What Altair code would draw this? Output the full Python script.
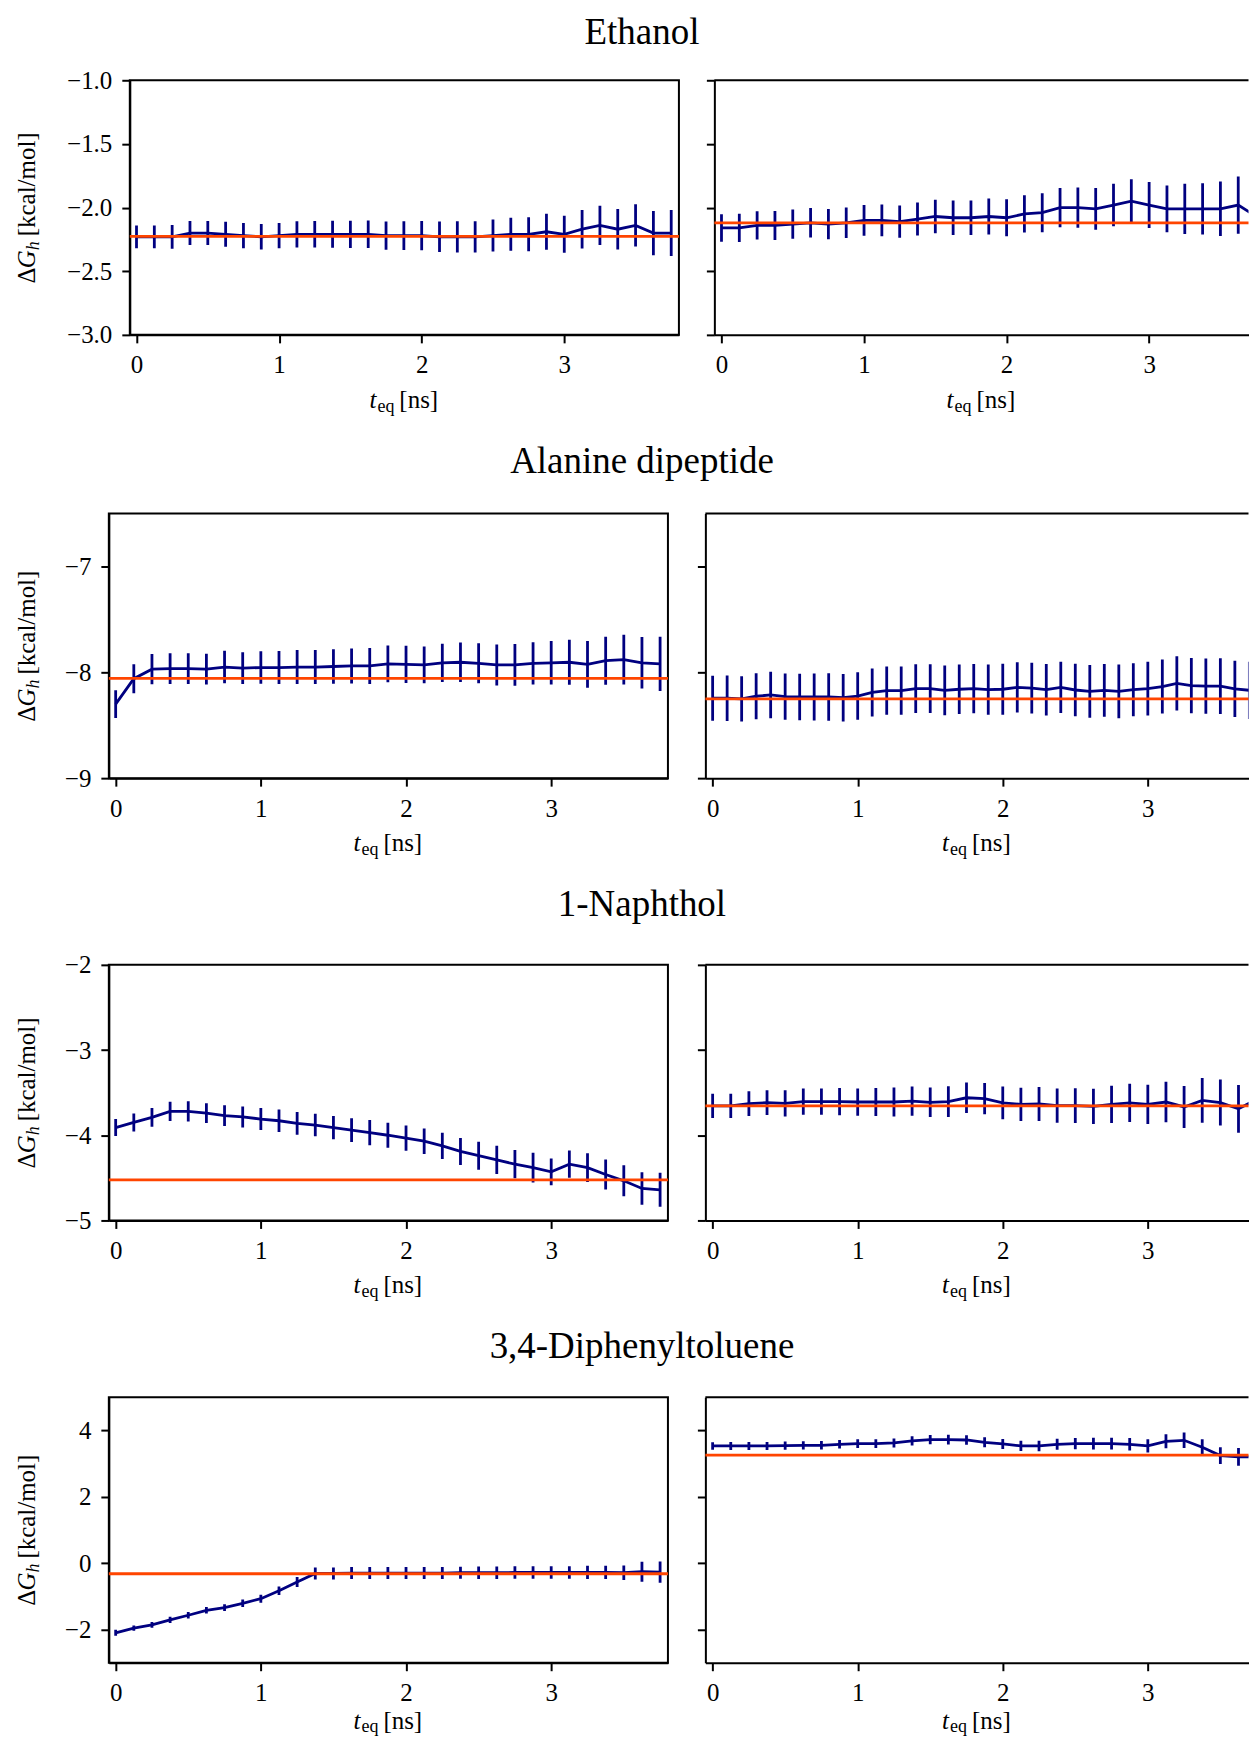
import altair as alt
import pandas as pd

FONT = "Liberation Serif"
BLUE = "#000080"
ORANGE = "#FF4500"

# ---------------- data ----------------
titles = ["Ethanol", "Alanine dipeptide", "1-Naphthol", "3,4-Diphenyltoluene"]

eth_left_step = 0.125
eth_left_vals = [-2.23, -2.23, -2.23, -2.20, -2.20, -2.21, -2.22, -2.23, -2.22, -2.21, -2.21,
                 -2.21, -2.21, -2.21, -2.22, -2.22, -2.22, -2.23, -2.23, -2.23, -2.22, -2.21,
                 -2.21, -2.19, -2.21, -2.17, -2.14, -2.17, -2.14, -2.20, -2.20]
eth_left_errs = [0.089, 0.089, 0.093, 0.094, 0.095, 0.098, 0.099, 0.100, 0.099, 0.103, 0.104,
                 0.106, 0.107, 0.108, 0.111, 0.113, 0.115, 0.120, 0.122, 0.123, 0.126, 0.130,
                 0.134, 0.141, 0.145, 0.151, 0.154, 0.159, 0.166, 0.174, 0.180]
eth_left_ref = -2.227

eth_right_step = 0.125
eth_right_vals = [-2.16, -2.16, -2.14, -2.14, -2.13, -2.12, -2.13, -2.12, -2.10, -2.10, -2.11,
                  -2.09, -2.07, -2.08, -2.08, -2.07, -2.08, -2.05, -2.04, -2.00, -2.00, -2.01,
                  -1.98, -1.95, -1.98, -2.01, -2.01, -2.01, -2.01, -1.98, -2.07]
eth_right_errs = [0.108, 0.111, 0.111, 0.114, 0.114, 0.116, 0.119, 0.120, 0.121, 0.125, 0.127,
                  0.129, 0.132, 0.136, 0.136, 0.141, 0.145, 0.146, 0.153, 0.154, 0.158, 0.164,
                  0.167, 0.172, 0.180, 0.184, 0.197, 0.202, 0.214, 0.225, 0.237]
eth_right_ref = -2.12

ala_left_step = 0.125
ala_left_vals = [-8.30, -8.06, -7.97, -7.965, -7.965, -7.97, -7.95, -7.96, -7.955, -7.955, -7.95,
                 -7.95, -7.945, -7.94, -7.94, -7.92, -7.925, -7.93, -7.91, -7.905, -7.915, -7.93,
                 -7.93, -7.915, -7.91, -7.905, -7.925, -7.89, -7.88, -7.91, -7.92]
ala_left_errs = [0.131, 0.137, 0.142, 0.145, 0.145, 0.145, 0.153, 0.150, 0.153, 0.156, 0.160,
                 0.160, 0.162, 0.165, 0.170, 0.173, 0.176, 0.173, 0.181, 0.186, 0.189, 0.194,
                 0.198, 0.200, 0.205, 0.213, 0.220, 0.227, 0.236, 0.244, 0.257]
ala_left_ref = -8.057

ala_right_step = 0.1
ala_right_vals = [-8.245, -8.245, -8.25, -8.226, -8.214, -8.23, -8.233, -8.233, -8.233, -8.24,
                  -8.224, -8.19, -8.173, -8.173, -8.154, -8.154, -8.17, -8.16, -8.154, -8.164,
                  -8.16, -8.142, -8.15, -8.164, -8.142, -8.167, -8.18, -8.17, -8.18, -8.164,
                  -8.154, -8.135, -8.104, -8.126, -8.13, -8.13, -8.157, -8.17]
ala_right_errs = [0.213, 0.216, 0.214, 0.217, 0.219, 0.219, 0.220, 0.222, 0.224, 0.224, 0.224,
                  0.227, 0.228, 0.228, 0.230, 0.230, 0.235, 0.233, 0.233, 0.238, 0.240, 0.238,
                  0.240, 0.243, 0.243, 0.249, 0.249, 0.249, 0.254, 0.250, 0.255, 0.255, 0.257,
                  0.261, 0.261, 0.263, 0.266, 0.270]
ala_right_ref = -8.25

nap_left_step = 0.125
nap_left_vals = [-3.91, -3.85, -3.79, -3.72, -3.72, -3.74, -3.77, -3.785, -3.81, -3.83, -3.86,
                 -3.88, -3.91, -3.94, -3.97, -4.00, -4.035, -4.07, -4.125, -4.19, -4.24, -4.29,
                 -4.34, -4.38, -4.43, -4.34, -4.38, -4.46, -4.535, -4.625, -4.64]
nap_left_errs = [0.100, 0.105, 0.109, 0.113, 0.119, 0.115, 0.121, 0.123, 0.129, 0.131, 0.133,
                 0.131, 0.137, 0.140, 0.148, 0.148, 0.148, 0.150, 0.154, 0.158, 0.164, 0.166,
                 0.166, 0.174, 0.156, 0.160, 0.170, 0.176, 0.182, 0.190, 0.200]
nap_left_ref = -4.523

nap_right_step = 0.125
nap_right_vals = [-3.656, -3.656, -3.63, -3.617, -3.625, -3.605, -3.605, -3.605, -3.61, -3.61,
                  -3.61, -3.60, -3.613, -3.605, -3.56, -3.57, -3.62, -3.637, -3.633, -3.652,
                  -3.652, -3.66, -3.637, -3.62, -3.637, -3.61, -3.668, -3.59, -3.617, -3.69, -3.58]
nap_right_errs = [0.143, 0.143, 0.145, 0.146, 0.154, 0.154, 0.154, 0.160, 0.160, 0.164, 0.170,
                  0.172, 0.174, 0.180, 0.180, 0.184, 0.191, 0.195, 0.200, 0.200, 0.205, 0.207,
                  0.219, 0.225, 0.230, 0.238, 0.246, 0.262, 0.270, 0.280, 0.290]
nap_right_ref = -3.656

dph_left_step = 0.125
dph_left_vals = [-2.10, -1.96, -1.86, -1.71, -1.57, -1.42, -1.34, -1.21, -1.07, -0.83, -0.57,
                 -0.31, -0.31, -0.30, -0.30, -0.30, -0.30, -0.30, -0.30, -0.29, -0.29, -0.29,
                 -0.28, -0.28, -0.28, -0.28, -0.28, -0.28, -0.29, -0.26, -0.27]
dph_left_errs = [0.09, 0.08, 0.09, 0.095, 0.10, 0.10, 0.105, 0.115, 0.12, 0.13, 0.15,
                 0.18, 0.18, 0.18, 0.18, 0.18, 0.18, 0.18, 0.18, 0.18, 0.185, 0.185,
                 0.19, 0.19, 0.19, 0.19, 0.20, 0.20, 0.22, 0.30, 0.32]
dph_left_ref = -0.32

dph_right_step = 0.125
dph_right_vals = [3.53, 3.53, 3.53, 3.53, 3.54, 3.55, 3.55, 3.58, 3.60, 3.60, 3.62, 3.68, 3.72,
                  3.72, 3.71, 3.64, 3.59, 3.53, 3.53, 3.58, 3.60, 3.60, 3.60, 3.58, 3.53, 3.67,
                  3.70, 3.49, 3.24, 3.20, 3.20]
dph_right_errs = [0.115, 0.12, 0.12, 0.12, 0.125, 0.125, 0.13, 0.13, 0.13, 0.135, 0.135, 0.14,
                  0.14, 0.145, 0.145, 0.15, 0.15, 0.155, 0.16, 0.165, 0.17, 0.175, 0.18, 0.19,
                  0.20, 0.21, 0.235, 0.24, 0.25, 0.265, 0.275]
dph_right_ref = 3.256

y_domains = [[-3.0, -1.0], [-9.0, -6.5], [-5.0, -2.0], [-3.0, 5.0]]
y_ticks = [[-3.0, -2.5, -2.0, -1.5, -1.0], [-9, -8, -7], [-5, -4, -3, -2], [-2, 0, 2, 4]]
y_formats = [".1f", "d", "d", "d"]
x_ticks = [0, 1, 2, 3]

# ---------------- layout (px) ----------------
left_w = [550, 560, 560, 560]
right_w = [535, 544, 544, 544]
heights = [255, 265, 256, 266]
gap_w = [35.5, 37.5, 37.5, 37.5]
left_xdom = [-0.047, 3.804]
right_xdom = [[-0.05, 3.697], [-0.05, 3.694], [-0.05, 3.694], [-0.05, 3.694]]
ylab_x = [-94.6, -73.6, -73.6, -73.6]
xlab_dy = [73, 73, 73, 66]
sub_dy = [4, 4, 4, 3]
title_x = [513, 534, 534, 534]
title_y = [-36.7, -40.5, -49, -39]
LW = 2.8


def text_layer(txt, x, y, size, italic=False, angle=0, align="left"):
    kw = dict(font=FONT, fontSize=size, align=align, baseline="alphabetic", color="black")
    if italic:
        kw["fontStyle"] = "italic"
    if angle:
        kw["angle"] = angle
    return alt.Chart(pd.DataFrame({"s": [txt]})).mark_text(**kw).encode(
        text="s:N", x=alt.value(x), y=alt.value(y))


def panel(step, vals, errs, ref, row, is_left):
    w = left_w[row] if is_left else right_w[row]
    h = heights[row]
    xs = [round(i * step, 4) for i in range(len(vals))]
    df = pd.DataFrame({
        "t": xs, "g": vals,
        "lo": [v - e for v, e in zip(vals, errs)],
        "hi": [v + e for v, e in zip(vals, errs)],
    })
    xsc = alt.Scale(domain=left_xdom if is_left else right_xdom[row], nice=False, zero=False)
    ysc = alt.Scale(domain=y_domains[row], nice=False, zero=False)
    xax = alt.Axis(values=x_ticks, format="d", title=None, grid=False)
    yax = alt.Axis(values=y_ticks[row], format=y_formats[row], title=None, grid=False,
                   labels=is_left)
    base = alt.Chart(df)
    bars = base.mark_rule(color=BLUE, strokeWidth=LW, clip=True).encode(
        x=alt.X("t:Q", scale=xsc, axis=xax),
        y=alt.Y("lo:Q", scale=ysc, axis=yax),
        y2="hi:Q")
    line = base.mark_line(color=BLUE, strokeWidth=LW, clip=True).encode(
        x=alt.X("t:Q", scale=xsc, axis=xax),
        y=alt.Y("g:Q", scale=ysc, axis=yax))
    refl = alt.Chart(pd.DataFrame({"r": [ref]})).mark_rule(
        color=ORANGE, strokeWidth=LW).encode(y=alt.Y("r:Q", scale=ysc, axis=yax))

    c = w / 2
    dy = xlab_dy[row]
    layers = [bars, line, refl,
              text_layer("t", c - 35, h + dy, 25, italic=True),
              text_layer("eq", c - 27, h + dy + sub_dy[row], 18),
              text_layer("[ns]", c - 5, h + dy, 25)]
    if is_left:
        yc = h / 2
        lx = ylab_x[row]
        layers += [text_layer("Δ", lx, yc + 76, 25, angle=270),
                   text_layer("G", lx, yc + 60.7, 25, italic=True, angle=270),
                   text_layer("h", lx + 4, yc + 42.7, 18, italic=True, angle=270),
                   text_layer("[kcal/mol]", lx, yc + 28.7, 25, angle=270),
                   text_layer(titles[row], title_x[row], title_y[row], 37, align="center")]
        ch = alt.layer(*layers).properties(width=w, height=h)
    else:
        top = alt.Chart(pd.DataFrame({"r": [0]})).mark_rule(
            color="black", strokeWidth=2).encode(y=alt.value(0))
        layers.append(top)
        ch = alt.layer(*layers).properties(
            width=w, height=h, view=alt.ViewBackground(strokeOpacity=0))
    return ch


def spacer():
    return alt.Chart(pd.DataFrame({"a": [0]})).mark_point(opacity=0, size=1).encode(
        x=alt.value(0), y=alt.value(0)).properties(
        width=1, height=1, view=alt.ViewBackground(strokeOpacity=0))


data = [
    (eth_left_step, eth_left_vals, eth_left_errs, eth_left_ref,
     eth_right_step, eth_right_vals, eth_right_errs, eth_right_ref),
    (ala_left_step, ala_left_vals, ala_left_errs, ala_left_ref,
     ala_right_step, ala_right_vals, ala_right_errs, ala_right_ref),
    (nap_left_step, nap_left_vals, nap_left_errs, nap_left_ref,
     nap_right_step, nap_right_vals, nap_right_errs, nap_right_ref),
    (dph_left_step, dph_left_vals, dph_left_errs, dph_left_ref,
     dph_right_step, dph_right_vals, dph_right_errs, dph_right_ref),
]

rows = []
for r, d in enumerate(data):
    lp = panel(d[0], d[1], d[2], d[3], r, True)
    rp = panel(d[4], d[5], d[6], d[7], r, False)
    inner = alt.hconcat(lp, rp, spacing=gap_w[r], bounds="flush")
    rows.append(alt.hconcat(spacer(), inner, spacing=0))

chart = alt.vconcat(*rows, spacing=25).properties(
    padding={"left": 4, "top": 3, "right": 0, "bottom": 0}
).configure_view(
    stroke="black", strokeWidth=2
).configure_axis(
    domainColor="black", domainWidth=2, tickColor="black", tickWidth=2, tickSize=8,
    labelFont=FONT, labelFontSize=25, labelColor="black", labelPadding=10, grid=False
)

chart.save("out.html", embed_options={"renderer": "svg", "actions": False})
